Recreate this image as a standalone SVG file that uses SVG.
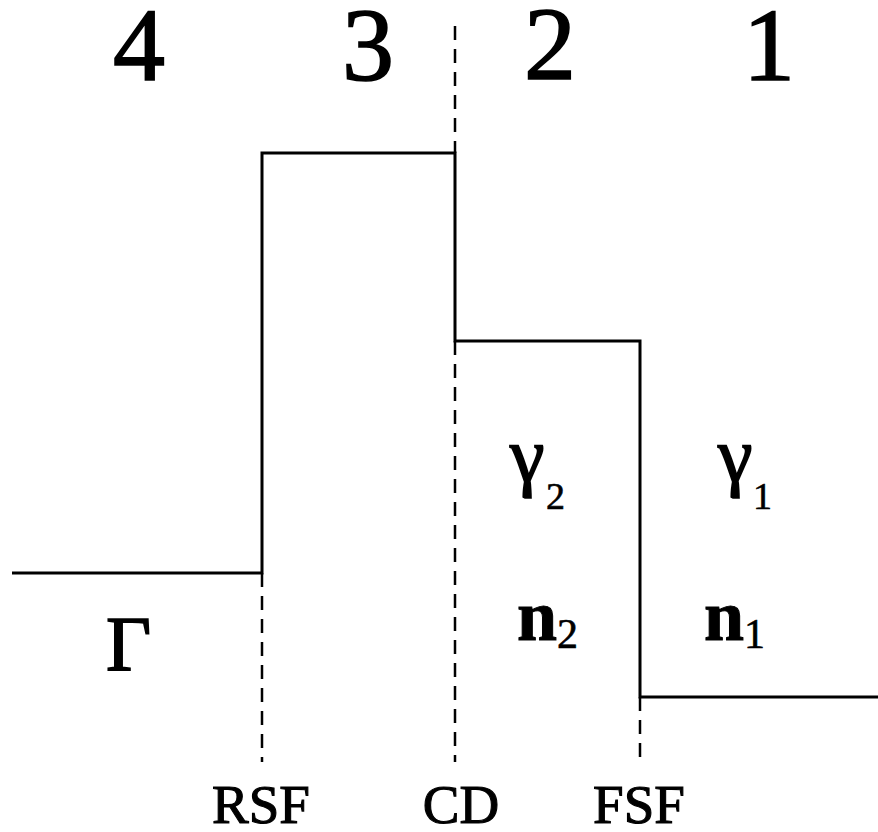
<svg xmlns="http://www.w3.org/2000/svg" width="878" height="832" viewBox="0 0 878 832">
  <style>
    .bg { fill: #ffffff; }
    .profile { fill: none; stroke: #000; stroke-width: 3; stroke-linejoin: miter; }
    .front { fill: none; stroke: #000; stroke-width: 2.5; stroke-dasharray: 14 9; }
    text { font-family: "Liberation Serif", "Times New Roman", serif; fill: #000; stroke: #000; stroke-width: 1; }
    .region { font-size: 104px; text-anchor: middle; stroke-width: 1.6; }
    .sym { font-size: 78px; stroke-width: 1.6; }
    .nsym { font-size: 72px; font-weight: bold; }
    .sub { font-size: 38px; stroke-width: 0.6; }
    .nsub { font-size: 42px; stroke-width: 0.6; }
    .label { font-size: 55px; text-anchor: middle; stroke-width: 1.1; }
  </style>
  <rect class="bg" x="0" y="0" width="878" height="832"/>

  <!-- region numbers -->
  <g id="region-numbers">
    <text class="region" x="139" y="80">4</text>
    <text class="region" x="368" y="80">3</text>
    <text class="region" x="550" y="79">2</text>
    <text class="region" x="769" y="80">1</text>
  </g>

  <!-- step profile and discontinuity markers -->
  <g id="connectors">
    <polyline id="profile" class="profile" points="12,573 262,573 262,153 455,153 455,341 640,341 640,697 878,697"/>
    <line id="rsf-line" class="front" x1="262" y1="573" x2="262" y2="762"/>
    <line id="cd-line-top" class="front" x1="455" y1="26" x2="455" y2="153"/>
    <line id="cd-line-bottom" class="front" x1="455" y1="341" x2="455" y2="762"/>
    <line id="fsf-line" class="front" x1="640" y1="697" x2="640" y2="762"/>
  </g>

  <!-- state symbols -->
  <g id="gamma2">
    <text class="sym" x="510" y="481">γ</text>
    <text class="sub" x="546" y="509">2</text>
  </g>
  <g id="gamma1">
    <text class="sym" x="718" y="481">γ</text>
    <text class="sub" x="753" y="509">1</text>
  </g>
  <g id="n2">
    <text class="nsym" x="517" y="640">n</text>
    <text class="nsub" x="557" y="648">2</text>
  </g>
  <g id="n1">
    <text class="nsym" x="704" y="640">n</text>
    <text class="nsub" x="744" y="648">1</text>
  </g>
  <g id="Gamma">
    <text class="sym" x="106" y="670">Γ</text>
  </g>

  <!-- front labels -->
  <g id="label-rsf"><text class="label" x="261" y="823">RSF</text></g>
  <g id="label-cd"><text class="label" x="461" y="823">CD</text></g>
  <g id="label-fsf"><text class="label" x="639" y="823">FSF</text></g>
</svg>
